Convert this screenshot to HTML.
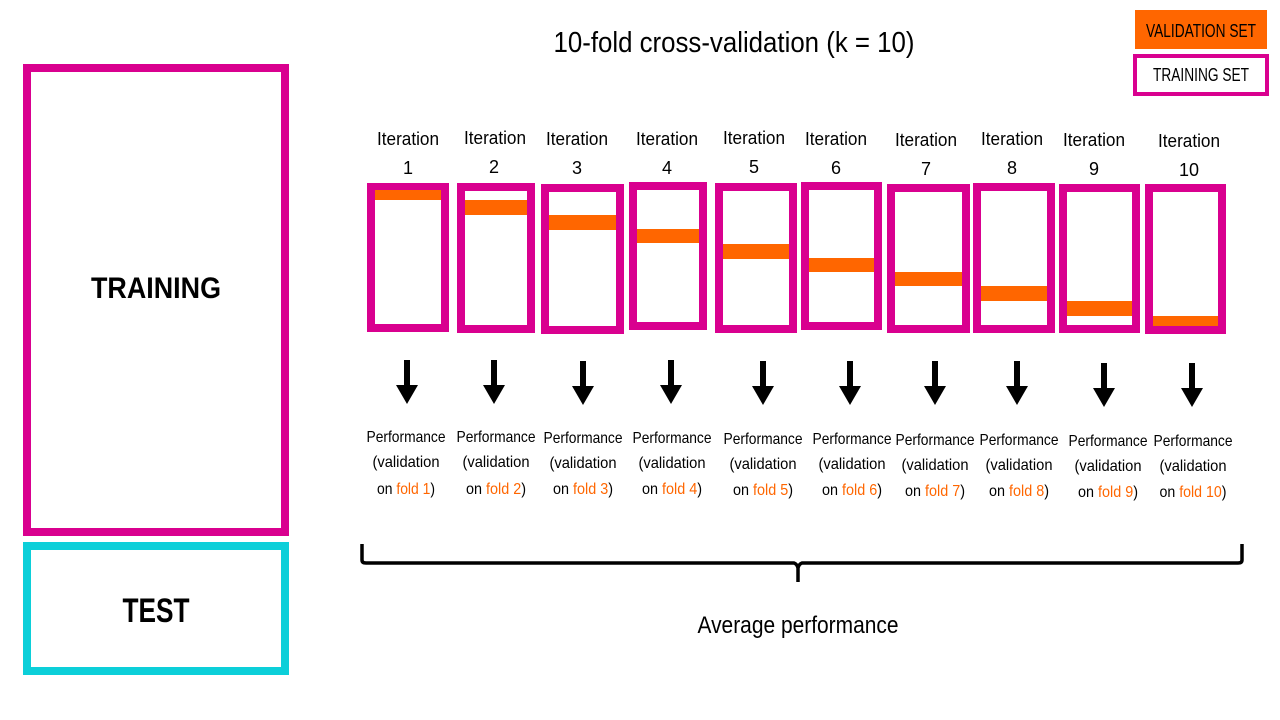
<!DOCTYPE html>
<html><head><meta charset="utf-8"><style>
html,body{margin:0;padding:0;background:#fff;}
svg{display:block;}
text{font-family:"Liberation Sans",sans-serif;fill:#000;}
.it{font-size:18px;text-anchor:middle;}
.pf{font-size:16px;text-anchor:middle;}
.o{fill:#FF6600;}
</style></head><body>
<svg width="1280" height="720" viewBox="0 0 1280 720" xmlns="http://www.w3.org/2000/svg">
<rect width="1280" height="720" fill="#fff"/>
<rect x="27" y="68" width="258" height="464" fill="none" stroke="#D9008F" stroke-width="8"/>
<text x="156" y="298" font-size="30" font-weight="bold" text-anchor="middle" textLength="130" lengthAdjust="spacingAndGlyphs">TRAINING</text>
<rect x="27" y="546" width="258" height="125" fill="none" stroke="#0CCFD9" stroke-width="8"/>
<text x="156" y="622" font-size="34" font-weight="bold" text-anchor="middle" textLength="67" lengthAdjust="spacingAndGlyphs">TEST</text>
<text x="734" y="52" font-size="29" text-anchor="middle" textLength="361" lengthAdjust="spacingAndGlyphs">10-fold cross-validation (k = 10)</text>
<rect x="1135" y="10" width="132" height="39" fill="#FF6600"/>
<text x="1201" y="37" font-size="18" text-anchor="middle" textLength="110" lengthAdjust="spacingAndGlyphs">VALIDATION SET</text>
<rect x="1135" y="56" width="132" height="38" fill="none" stroke="#D9008F" stroke-width="4"/>
<text x="1201" y="81" font-size="18" text-anchor="middle" textLength="96" lengthAdjust="spacingAndGlyphs">TRAINING SET</text>
<g fill="none" stroke="#D9008F" stroke-width="8">
<rect x="371" y="187" width="74" height="141"/>
<rect x="461" y="187" width="70" height="142"/>
<rect x="545" y="188" width="75" height="142"/>
<rect x="633" y="186" width="70" height="140"/>
<rect x="719" y="187" width="74" height="142"/>
<rect x="805" y="186" width="73" height="140"/>
<rect x="891" y="188" width="75" height="141"/>
<rect x="977" y="187" width="74" height="142"/>
<rect x="1063" y="188" width="73" height="141"/>
<rect x="1149" y="188" width="73" height="142"/>
</g>
<g fill="#FF6600">
<rect x="375" y="190" width="66" height="10"/>
<rect x="465" y="200" width="62" height="15"/>
<rect x="549" y="215" width="67" height="15"/>
<rect x="637" y="229" width="62" height="14"/>
<rect x="723" y="244" width="66" height="15"/>
<rect x="809" y="258" width="65" height="14"/>
<rect x="895" y="272" width="67" height="14"/>
<rect x="981" y="286" width="66" height="15"/>
<rect x="1067" y="301" width="65" height="15"/>
<rect x="1153" y="316" width="65" height="10"/>
</g>
<g>
<text x="408" y="145" class="it" textLength="62" lengthAdjust="spacingAndGlyphs">Iteration</text><text x="408" y="174" class="it">1</text>
<text x="495" y="144" class="it" textLength="62" lengthAdjust="spacingAndGlyphs">Iteration</text><text x="494" y="173" class="it">2</text>
<text x="577" y="145" class="it" textLength="62" lengthAdjust="spacingAndGlyphs">Iteration</text><text x="577" y="174" class="it">3</text>
<text x="667" y="145" class="it" textLength="62" lengthAdjust="spacingAndGlyphs">Iteration</text><text x="667" y="174" class="it">4</text>
<text x="754" y="144" class="it" textLength="62" lengthAdjust="spacingAndGlyphs">Iteration</text><text x="754" y="173" class="it">5</text>
<text x="836" y="145" class="it" textLength="62" lengthAdjust="spacingAndGlyphs">Iteration</text><text x="836" y="174" class="it">6</text>
<text x="926" y="146" class="it" textLength="62" lengthAdjust="spacingAndGlyphs">Iteration</text><text x="926" y="175" class="it">7</text>
<text x="1012" y="145" class="it" textLength="62" lengthAdjust="spacingAndGlyphs">Iteration</text><text x="1012" y="174" class="it">8</text>
<text x="1094" y="146" class="it" textLength="62" lengthAdjust="spacingAndGlyphs">Iteration</text><text x="1094" y="175" class="it">9</text>
<text x="1189" y="147" class="it" textLength="62" lengthAdjust="spacingAndGlyphs">Iteration</text><text x="1189" y="176" class="it">10</text>
</g>
<g fill="#000">
<path d="M404 360h6v25h8l-11 19l-11-19h8z"/>
<path d="M491 360h6v25h8l-11 19l-11-19h8z"/>
<path d="M580 361h6v25h8l-11 19l-11-19h8z"/>
<path d="M668 360h6v25h8l-11 19l-11-19h8z"/>
<path d="M760 361h6v25h8l-11 19l-11-19h8z"/>
<path d="M847 361h6v25h8l-11 19l-11-19h8z"/>
<path d="M932 361h6v25h8l-11 19l-11-19h8z"/>
<path d="M1014 361h6v25h8l-11 19l-11-19h8z"/>
<path d="M1101 363h6v25h8l-11 19l-11-19h8z"/>
<path d="M1189 363h6v25h8l-11 19l-11-19h8z"/>
</g>
<g>
<text class="pf" x="406" y="442" textLength="79" lengthAdjust="spacingAndGlyphs">Performance</text><text class="pf" x="406" y="467" textLength="67" lengthAdjust="spacingAndGlyphs">(validation</text><text class="pf" x="406" y="494" textLength="58" lengthAdjust="spacingAndGlyphs">on <tspan class="o">fold 1</tspan>)</text>
<text class="pf" x="496" y="442" textLength="79" lengthAdjust="spacingAndGlyphs">Performance</text><text class="pf" x="496" y="467" textLength="67" lengthAdjust="spacingAndGlyphs">(validation</text><text class="pf" x="496" y="494" textLength="60" lengthAdjust="spacingAndGlyphs">on <tspan class="o">fold 2</tspan>)</text>
<text class="pf" x="583" y="443" textLength="79" lengthAdjust="spacingAndGlyphs">Performance</text><text class="pf" x="583" y="468" textLength="67" lengthAdjust="spacingAndGlyphs">(validation</text><text class="pf" x="583" y="494" textLength="60" lengthAdjust="spacingAndGlyphs">on <tspan class="o">fold 3</tspan>)</text>
<text class="pf" x="672" y="443" textLength="79" lengthAdjust="spacingAndGlyphs">Performance</text><text class="pf" x="672" y="468" textLength="67" lengthAdjust="spacingAndGlyphs">(validation</text><text class="pf" x="672" y="494" textLength="60" lengthAdjust="spacingAndGlyphs">on <tspan class="o">fold 4</tspan>)</text>
<text class="pf" x="763" y="444" textLength="79" lengthAdjust="spacingAndGlyphs">Performance</text><text class="pf" x="763" y="469" textLength="67" lengthAdjust="spacingAndGlyphs">(validation</text><text class="pf" x="763" y="495" textLength="60" lengthAdjust="spacingAndGlyphs">on <tspan class="o">fold 5</tspan>)</text>
<text class="pf" x="852" y="444" textLength="79" lengthAdjust="spacingAndGlyphs">Performance</text><text class="pf" x="852" y="469" textLength="67" lengthAdjust="spacingAndGlyphs">(validation</text><text class="pf" x="852" y="495" textLength="60" lengthAdjust="spacingAndGlyphs">on <tspan class="o">fold 6</tspan>)</text>
<text class="pf" x="935" y="445" textLength="79" lengthAdjust="spacingAndGlyphs">Performance</text><text class="pf" x="935" y="470" textLength="67" lengthAdjust="spacingAndGlyphs">(validation</text><text class="pf" x="935" y="496" textLength="60" lengthAdjust="spacingAndGlyphs">on <tspan class="o">fold 7</tspan>)</text>
<text class="pf" x="1019" y="445" textLength="79" lengthAdjust="spacingAndGlyphs">Performance</text><text class="pf" x="1019" y="470" textLength="67" lengthAdjust="spacingAndGlyphs">(validation</text><text class="pf" x="1019" y="496" textLength="60" lengthAdjust="spacingAndGlyphs">on <tspan class="o">fold 8</tspan>)</text>
<text class="pf" x="1108" y="446" textLength="79" lengthAdjust="spacingAndGlyphs">Performance</text><text class="pf" x="1108" y="471" textLength="67" lengthAdjust="spacingAndGlyphs">(validation</text><text class="pf" x="1108" y="497" textLength="60" lengthAdjust="spacingAndGlyphs">on <tspan class="o">fold 9</tspan>)</text>
<text class="pf" x="1193" y="446" textLength="79" lengthAdjust="spacingAndGlyphs">Performance</text><text class="pf" x="1193" y="471" textLength="67" lengthAdjust="spacingAndGlyphs">(validation</text><text class="pf" x="1193" y="497" textLength="67" lengthAdjust="spacingAndGlyphs">on <tspan class="o">fold 10</tspan>)</text>
</g>
<path d="M362 544 V560 Q362 563 366 563 H794 Q797 564 798 568 V582 M798 568 Q799 564 802 563 H1238 Q1242 563 1242 560 V544" fill="none" stroke="#000" stroke-width="3.5"/>
<text x="798" y="633" font-size="24" text-anchor="middle" textLength="201" lengthAdjust="spacingAndGlyphs">Average performance</text>
</svg>
</body></html>
